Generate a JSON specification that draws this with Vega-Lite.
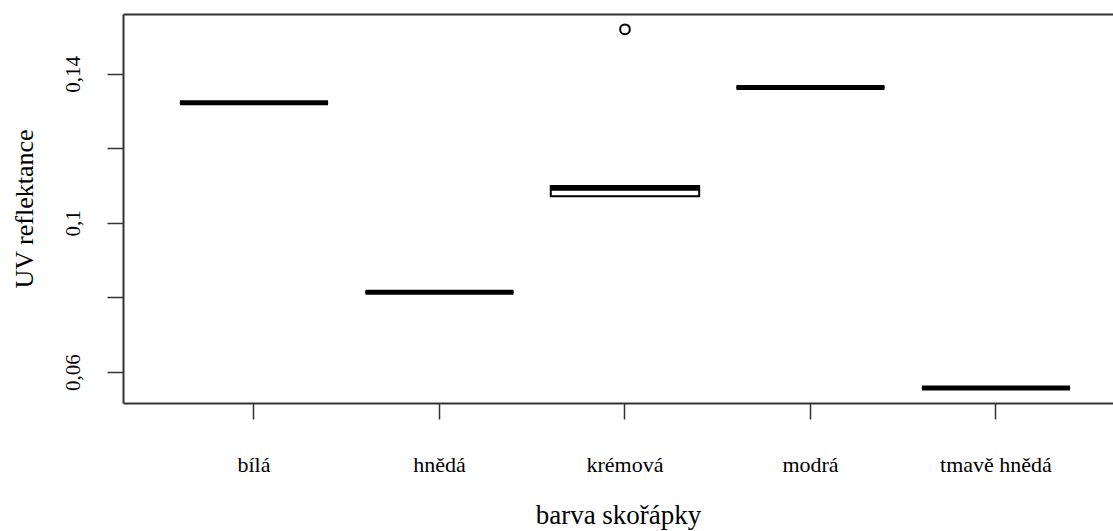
{
  "$schema": "https://vega.github.io/schema/vega-lite/v6.json",
  "width": 990,
  "height": 389,
  "autosize": {"type": "none"},
  "padding": {"left": 123, "top": 14, "right": 0, "bottom": 128},
  "background": "white",
  "config": {
    "view": {"stroke": null},
    "font": "Liberation Serif"
  },
  "datasets": {
    "boxes": [
      {"barva": "bílá", "q1": 0.1323, "median": 0.1323, "q3": 0.1323},
      {"barva": "hnědá", "q1": 0.0814, "median": 0.0814, "q3": 0.0814},
      {"barva": "krémová", "q1": 0.1072, "median": 0.1093, "q3": 0.1099},
      {"barva": "modrá", "q1": 0.1364, "median": 0.1364, "q3": 0.1364},
      {"barva": "tmavě hnědá", "q1": 0.0557, "median": 0.0557, "q3": 0.0557}
    ],
    "outliers": [
      {"barva": "krémová", "uv": 0.152}
    ]
  },
  "layer": [
    {
      "data": {"name": "boxes"},
      "mark": {"type": "bar", "fill": "white", "stroke": "black", "strokeWidth": 2},
      "encoding": {
        "x": {
          "field": "barva",
          "type": "nominal",
          "sort": ["bílá", "hnědá", "krémová", "modrá", "tmavě hnědá"],
          "scale": {"type": "band", "paddingInner": 0.2, "paddingOuter": 0.2685, "align": 0.57},
          "axis": {
            "orient": "bottom",
            "title": "barva skořápky",
            "titleFont": "Liberation Serif",
            "titleFontSize": 27,
            "titleFontWeight": "normal",
            "titleColor": "black",
            "titleBaseline": "middle",
            "titleY": 112,
            "labelAngle": 0,
            "labelFont": "Liberation Serif",
            "labelFontSize": 22,
            "labelColor": "black",
            "labelBaseline": "middle",
            "labelPadding": 45,
            "tickSize": 16,
            "tickColor": "#333333",
            "tickWidth": 1.5,
            "domainColor": "#333333",
            "domainWidth": 2,
            "grid": false
          }
        },
        "y": {
          "field": "q1",
          "type": "quantitative",
          "scale": {"domain": [0.05168, 0.1561], "nice": false, "zero": false},
          "axis": {
            "title": "UV reflektance",
            "titleFont": "Liberation Serif",
            "titleFontSize": 26,
            "titleFontWeight": "normal",
            "titleColor": "black",
            "titleAngle": 270,
            "titleAlign": "center",
            "titleBaseline": "middle",
            "titleX": -99,
            "titleY": 194.5,
            "values": [0.06, 0.08, 0.1, 0.12, 0.14],
            "labelExpr": "datum.value == 0.08 || datum.value == 0.12 ? '' : replace(format(datum.value, '.2~f'), '.', ',')",
            "labelAngle": 270,
            "labelAlign": "center",
            "labelBaseline": "middle",
            "labelPadding": 34,
            "labelFont": "Liberation Serif",
            "labelFontSize": 21,
            "labelColor": "black",
            "labelOverlap": false,
            "tickSize": 16,
            "tickColor": "#333333",
            "tickWidth": 1.5,
            "domainColor": "#333333",
            "domainWidth": 2,
            "grid": false
          }
        },
        "y2": {"field": "q3"}
      }
    },
    {
      "data": {"name": "boxes"},
      "mark": {"type": "tick", "color": "black", "size": 148, "thickness": 5, "opacity": 1},
      "encoding": {
        "x": {"field": "barva", "type": "nominal", "sort": ["bílá", "hnědá", "krémová", "modrá", "tmavě hnědá"], "axis": null},
        "y": {"field": "median", "type": "quantitative"}
      }
    },
    {
      "data": {"name": "outliers"},
      "mark": {"type": "point", "shape": "circle", "filled": false, "stroke": "black", "strokeWidth": 2, "size": 95, "opacity": 1},
      "encoding": {
        "x": {
          "field": "barva",
          "type": "nominal",
          "sort": ["bílá", "hnědá", "krémová", "modrá", "tmavě hnědá"],
          "axis": {"orient": "top", "labels": false, "ticks": false, "title": null, "domain": true, "domainColor": "#333333", "domainWidth": 2, "grid": false}
        },
        "y": {"field": "uv", "type": "quantitative"}
      }
    }
  ],
  "resolve": {"axis": {"x": "independent"}}
}
